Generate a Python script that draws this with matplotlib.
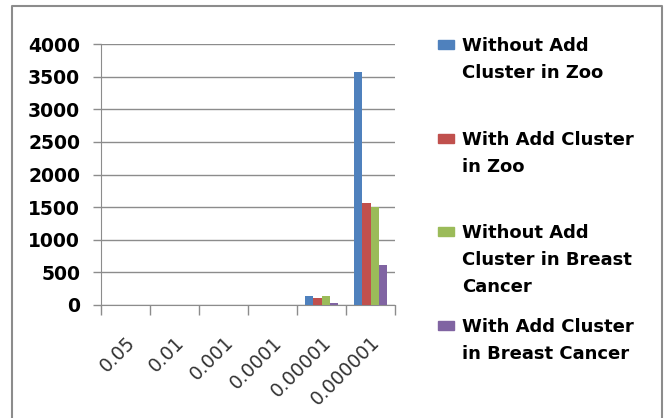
import numpy as np
import matplotlib.pyplot as plt
import matplotlib.transforms as mtransforms
from matplotlib.patches import Rectangle
from matplotlib.lines import Line2D

# Threshold values on the x axis
thresholds = ['0.05', '0.01', '0.001', '0.0001', '0.00001', '0.000001']

# Cluster counts per series
without_zoo = [1, 1, 2, 4, 138, 3570]
with_zoo = [1, 1, 1, 3, 107, 1570]
without_bc = [1, 1, 1, 3, 135, 1500]
with_bc = [0, 0, 1, 2, 30, 620]

series_names = [
    ['Without Add', 'Cluster in Zoo'],
    ['With Add Cluster', 'in Zoo'],
    ['Without Add', 'Cluster in Breast', 'Cancer'],
    ['With Add Cluster', 'in Breast Cancer'],
]
series_values = [without_zoo, with_zoo, without_bc, with_bc]
colors = ['#4F81BD', '#C0504D', '#9BBB59', '#8064A2']

W, H = 667, 418
fig = plt.figure(figsize=(W / 100, H / 100), dpi=100)
ax = fig.add_axes([101 / W, 1 - 305 / H, 294 / W, 261 / H])

x = np.arange(len(thresholds))
width = 0.172
for i, (vals, color) in enumerate(zip(series_values, colors)):
    ax.bar(x + (i - 1.5) * width, vals, width, color=color, zorder=3)

ax.set_xlim(-0.5, len(thresholds) - 0.5)
ax.set_ylim(0, 4000)
ax.set_yticks(range(0, 4001, 500))
ax.yaxis.grid(True, color='#8c8c8c', linewidth=1.0, zorder=0)

ax.set_xticks(x)
ax.set_xticklabels(thresholds, rotation=45, ha='right', va='top',
                   rotation_mode='anchor', fontsize=13.5, color='#333333')
shift = mtransforms.ScaledTranslation(4 / 100, 0, fig.dpi_scale_trans)
for lbl in ax.get_xticklabels():
    lbl.set_transform(lbl.get_transform() + shift)
ax.set_xticks(np.arange(-0.5, len(thresholds)), minor=True)
ax.tick_params(axis='x', which='major', length=0, pad=20)
ax.tick_params(axis='x', which='minor', length=7, color='#8c8c8c', width=1)
ax.tick_params(axis='y', length=6, color='#8c8c8c', width=1, pad=9)
for lbl in ax.get_yticklabels():
    lbl.set_fontweight('bold')
    lbl.set_fontsize(13.5)

for side in ['top', 'right']:
    ax.spines[side].set_visible(False)
ax.spines['left'].set_color('#8c8c8c')
ax.spines['bottom'].set_color('#8c8c8c')

# Legend drawn by hand: a square swatch and wrapped lines of bold text
line_step = 27
first_line_y = [46, 140, 233, 327]
for lines, color, y0 in zip(series_names, colors, first_line_y):
    fig.patches.append(Rectangle((438 / W, 1 - (y0 + 3) / H), 16 / W, 9 / H,
                                 transform=fig.transFigure, color=color))
    for k, line in enumerate(lines):
        fig.text(462 / W, 1 - (y0 + k * line_step) / H, line, fontsize=13,
                 fontweight='bold', va='center', ha='left')

# Chart border (open at the bottom edge)
border = Line2D([12 / W, 12 / W, 662 / W, 662 / W], [0, 1 - 6 / H, 1 - 6 / H, 0],
                transform=fig.transFigure, color='#8c8c8c', linewidth=1.5)
fig.lines.append(border)

fig.savefig('out.png', dpi=100)
